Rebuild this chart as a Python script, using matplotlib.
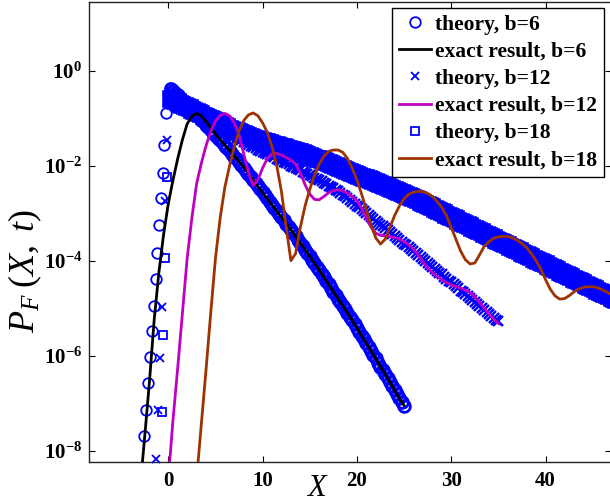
import numpy as np
import matplotlib
matplotlib.use("Agg")
import matplotlib.pyplot as plt
from matplotlib.ticker import FixedLocator, FixedFormatter

plt.rcParams['mathtext.fontset'] = 'custom'
plt.rcParams['mathtext.rm'] = 'Liberation Serif'
plt.rcParams['mathtext.it'] = 'Liberation Serif:italic'
plt.rcParams['mathtext.bf'] = 'Liberation Serif:bold'

# ---------------- data (log10 of P_F) ----------------
# theory b=6, left side (circles)
th6_left_x = [-2.55, -2.32, -2.12, -1.94, -1.76, -1.55, -1.34, -1.15, -0.95, -0.77, -0.60, -0.42, -0.24, 0.18]
th6_left_log = [-7.69, -7.14, -6.58, -6.02, -5.49, -4.95, -4.39, -3.83, -3.26, -2.69, -2.15, -1.56, -0.89, -0.36]
# theory b=6, X = 0.25 ... 25
th6_x = np.arange(0.25, 25.001, 0.25)
th6_log = [-0.38, -0.42, -0.47, -0.52, -0.57, -0.62, -0.67, -0.72, -0.77, -0.82,
           -0.87, -0.92, -0.975, -1.03, -1.085, -1.14, -1.195, -1.25, -1.305, -1.36,
           -1.415, -1.47, -1.525, -1.58, -1.635, -1.69, -1.75, -1.81, -1.87, -1.93,
           -1.99, -2.05, -2.115, -2.18, -2.245, -2.31, -2.37, -2.43, -2.495, -2.56,
           -2.625, -2.69, -2.755, -2.82, -2.885, -2.95, -3.015, -3.08, -3.15, -3.22,
           -3.285, -3.35, -3.42, -3.49, -3.56, -3.63, -3.70, -3.77, -3.84, -3.91,
           -3.98, -4.05, -4.125, -4.20, -4.275, -4.35, -4.425, -4.50, -4.575, -4.65,
           -4.725, -4.80, -4.875, -4.95, -5.025, -5.10, -5.18, -5.26, -5.34, -5.42,
           -5.50, -5.58, -5.66, -5.74, -5.82, -5.90, -5.98, -6.06, -6.145, -6.23,
           -6.31, -6.39, -6.475, -6.56, -6.645, -6.73, -6.815, -6.90, -6.985, -7.07]

# exact b=6, X = -3 ... 25
ex6_x = np.arange(-3.0, 25.01, 0.5)
ex6_log = [-8.8, -7.7, -6.55, -5.25, -4.25, -3.45, -2.8, -2.3, -1.85, -1.45, -1.12, -0.96, -0.9,
           -0.95, -1.07, -1.2, -1.33, -1.45, -1.57, -1.68, -1.79, -1.91, -2.03, -2.17, -2.31,
           -2.44, -2.57, -2.7, -2.83, -2.96, -3.09, -3.22, -3.35, -3.49, -3.63, -3.77, -3.91,
           -4.05, -4.2, -4.35, -4.5, -4.65, -4.8, -4.95, -5.1, -5.26, -5.42, -5.58, -5.74,
           -5.9, -6.06, -6.23, -6.39, -6.56, -6.73, -6.9, -7.05]

# theory b=12, left side (crosses)
th12_left_x = [-0.17, -0.35, -0.72, -0.89, -1.07, -1.30]
th12_left_log = [-1.45, -2.75, -4.97, -6.05, -7.14, -8.17]
# theory b=12, X = 0.25 ... 35
th12_x = np.arange(0.25, 35.001, 0.25)
th12_log = [-0.45, -0.5, -0.53, -0.56, -0.59, -0.62, -0.65, -0.68, -0.715, -0.75,
            -0.785, -0.82, -0.855, -0.89, -0.925, -0.96, -0.995, -1.03, -1.065, -1.1,
            -1.135, -1.17, -1.205, -1.24, -1.275, -1.31, -1.345, -1.38, -1.41, -1.44,
            -1.47, -1.5, -1.53, -1.56, -1.585, -1.61, -1.635, -1.66, -1.685, -1.71,
            -1.735, -1.76, -1.78, -1.8, -1.825, -1.85, -1.875, -1.9, -1.925, -1.95,
            -1.975, -2.0, -2.025, -2.05, -2.075, -2.1, -2.125, -2.15, -2.175, -2.2,
            -2.225, -2.25, -2.275, -2.3, -2.33, -2.36, -2.39, -2.42, -2.45, -2.48,
            -2.51, -2.54, -2.575, -2.61, -2.645, -2.68, -2.72, -2.76, -2.8, -2.84,
            -2.88, -2.92, -2.96, -3.0, -3.04, -3.08, -3.12, -3.16, -3.2, -3.24,
            -3.28, -3.32, -3.36, -3.4, -3.44, -3.48, -3.52, -3.56, -3.6, -3.64,
            -3.68, -3.72, -3.76, -3.8, -3.84, -3.88, -3.92, -3.96, -4.005, -4.05,
            -4.09, -4.13, -4.17, -4.21, -4.25, -4.29, -4.335, -4.38, -4.42, -4.46,
            -4.5, -4.54, -4.585, -4.63, -4.67, -4.71, -4.75, -4.79, -4.83, -4.87,
            -4.915, -4.96, -5.0, -5.04, -5.08, -5.12, -5.16, -5.2, -5.24, -5.28]

# exact b=12, X = 0 ... 35
ex12_x = np.arange(0.0, 35.01, 0.5)
ex12_log = [-8.6, -7.35, -6.25, -5.1, -3.95, -3.1, -2.38, -1.95, -1.58, -1.28, -1.06, -0.94, -0.9,
            -0.95, -1.1, -1.35, -1.75, -2.15, -2.42, -2.3, -2.05, -1.85, -1.75, -1.74, -1.78,
            -1.83, -1.88, -1.97, -2.15, -2.4, -2.6, -2.71, -2.72, -2.65, -2.57, -2.52, -2.51,
            -2.53, -2.58, -2.65, -2.74, -2.9, -3.1, -3.3, -3.42, -3.47, -3.48, -3.49, -3.51,
            -3.55, -3.6, -3.67, -3.76, -3.88, -4.02, -4.15, -4.25, -4.33, -4.4, -4.46, -4.51,
            -4.55, -4.58, -4.62, -4.67, -4.76, -4.88, -5.0, -5.12, -5.23, -5.32]

# theory b=18, left side (squares)
th18_left_x = [-0.17, -0.35, -0.53, -0.70]
th18_left_log = [-2.23, -3.95, -5.57, -7.18]
# theory b=18, X = 0.25 ... 47.5
th18_x = np.arange(0.25, 47.501, 0.25)
th18_log = [-0.6, -0.62, -0.645, -0.67, -0.695, -0.72, -0.745, -0.77, -0.795, -0.82,
            -0.845, -0.87, -0.895, -0.92, -0.945, -0.97, -0.995, -1.02, -1.045, -1.07,
            -1.095, -1.12, -1.145, -1.17, -1.195, -1.22, -1.24, -1.26, -1.28, -1.3,
            -1.32, -1.34, -1.36, -1.38, -1.4, -1.42, -1.435, -1.45, -1.465, -1.48,
            -1.495, -1.51, -1.525, -1.54, -1.555, -1.57, -1.585, -1.6, -1.615, -1.63,
            -1.645, -1.66, -1.675, -1.69, -1.705, -1.72, -1.735, -1.75, -1.77, -1.79,
            -1.81, -1.83, -1.85, -1.87, -1.89, -1.91, -1.93, -1.95, -1.97, -1.99,
            -2.01, -2.03, -2.05, -2.07, -2.09, -2.11, -2.13, -2.15, -2.17, -2.19,
            -2.21, -2.23, -2.25, -2.27, -2.29, -2.31, -2.33, -2.35, -2.37, -2.39,
            -2.41, -2.43, -2.45, -2.47, -2.49, -2.51, -2.53, -2.55, -2.57, -2.59,
            -2.61, -2.63, -2.655, -2.68, -2.705, -2.73, -2.755, -2.78, -2.805, -2.83,
            -2.855, -2.88, -2.905, -2.93, -2.955, -2.98, -3.005, -3.03, -3.055, -3.08,
            -3.105, -3.13, -3.155, -3.18, -3.205, -3.23, -3.255, -3.28, -3.305, -3.33,
            -3.355, -3.38, -3.405, -3.43, -3.455, -3.48, -3.505, -3.53, -3.555, -3.58,
            -3.605, -3.63, -3.655, -3.68, -3.705, -3.73, -3.755, -3.78, -3.805, -3.83,
            -3.855, -3.88, -3.905, -3.93, -3.955, -3.98, -4.005, -4.03, -4.055, -4.08,
            -4.105, -4.13, -4.155, -4.18, -4.205, -4.23, -4.255, -4.28, -4.305, -4.33,
            -4.355, -4.38, -4.405, -4.43, -4.455, -4.48, -4.505, -4.53, -4.555, -4.58,
            -4.605, -4.63, -4.655, -4.68, -4.705, -4.73, -4.755, -4.78, -4.805, -4.83]

# exact b=18, X = 3 ... 47
ex18_x = np.arange(3.0, 47.01, 0.5)
ex18_log = [-8.6, -7.45, -6.3, -5.1, -3.95, -3.1, -2.45, -2.0, -1.6, -1.27, -1.05, -0.93, -0.89,
            -0.95, -1.1, -1.3, -1.6, -2.0, -2.55, -3.3, -4.0, -3.85, -3.3, -2.85, -2.5,
            -2.2, -1.97, -1.8, -1.7, -1.67, -1.67, -1.72, -1.85, -2.05, -2.3, -2.6, -2.93,
            -3.25, -3.52, -3.65, -3.55, -3.3, -3.05, -2.85, -2.7, -2.6, -2.56, -2.54, -2.55,
            -2.58, -2.65, -2.75, -2.88, -3.05, -3.3, -3.55, -3.8, -3.98, -4.07, -4.05, -3.88,
            -3.7, -3.6, -3.53, -3.5, -3.49, -3.49, -3.52, -3.57, -3.64, -3.73, -3.85, -4.0,
            -4.18, -4.4, -4.6, -4.74, -4.81, -4.8, -4.74, -4.66, -4.6, -4.56, -4.55, -4.55,
            -4.57, -4.61, -4.66, -4.72]

legend_labels = ['theory, b=6', 'exact result, b=6', 'theory, b=12',
                 'exact result, b=12', 'theory, b=18', 'exact result, b=18']
xtick_vals = [0, 10, 20, 30, 40]
ytick_exp = [-8, -6, -4, -2, 0]

for a, b in [(th6_x, th6_log), (ex6_x, ex6_log), (th12_x, th12_log), (ex12_x, ex12_log),
             (th18_x, th18_log), (ex18_x, ex18_log)]:
    assert len(a) == len(b), (len(a), len(b))

def p(v):
    return 10.0 ** np.asarray(v, dtype=float)

# ---------------- figure ----------------
W, H = 610, 503
fig = plt.figure(figsize=(W / 100, H / 100), dpi=100)
ax_l, ax_r, ax_t, ax_b = 89, 611, 2, 462
ax = fig.add_axes([ax_l / W, (H - ax_b) / H, (ax_r - ax_l) / W, (ax_b - ax_t) / H])
ax.set_yscale('log')

blue = '#0000ff'
mag = '#c000c0'
brown = '#9c3300'
lw = 2.0

# b = 6
h_t6, = ax.plot(th6_left_x, p(th6_left_log), 'o', ls='none', mfc='none', mec=blue,
                ms=7.6, mew=1.3, clip_on=False, zorder=2)
ax.plot(th6_x, p(th6_log), 'o', ls='none', mfc='none', mec=blue, ms=8.4, mew=2.0, zorder=2)
# b = 12
h_t12, = ax.plot(th12_left_x, p(th12_left_log), 'x', ls='none', mec=blue,
                 ms=5.5, mew=1.3, clip_on=False, zorder=3)
ax.plot(th12_x, p(th12_log), 'x', ls='none', mec=blue, ms=7.6, mew=1.7, zorder=3)
# b = 18
h_t18, = ax.plot(th18_left_x, p(th18_left_log), 's', ls='none', mfc='none', mec=blue,
                 ms=6.0, mew=1.3, zorder=4)
ax.plot(th18_x, p(th18_log), 's', ls='none', mfc='none', mec=blue, ms=10.5, mew=2.6, zorder=4)
# exact curves on top
h_e6, = ax.plot(ex6_x, p(ex6_log), '-', color='k', lw=lw, zorder=6)
h_e12, = ax.plot(ex12_x, p(ex12_log), '-', color=mag, lw=lw, zorder=7)
h_e18, = ax.plot(ex18_x, p(ex18_log), '-', color=brown, lw=lw, zorder=8)

x0 = -8.41
ax.set_xlim(x0, x0 + (ax_r - ax_l) / 9.43)
ax.set_ylim(10 ** -8.24, 10 ** 1.446)

ax.xaxis.set_major_locator(FixedLocator(xtick_vals))
ax.xaxis.set_major_formatter(FixedFormatter([str(v) for v in xtick_vals]))
ax.yaxis.set_major_locator(FixedLocator([10.0 ** e for e in ytick_exp]))
ax.yaxis.set_major_formatter(FixedFormatter([r'$\mathbf{10^{%d}}$' % e for e in ytick_exp]))
ax.yaxis.set_minor_locator(FixedLocator([]))
ax.tick_params(which='both', direction='in', top=True, right=True, length=4.5, width=0.8,
               labelsize=15)
ax.tick_params(axis='x', pad=6.5)
ax.tick_params(axis='y', pad=5)
for lab in ax.get_xticklabels():
    lab.set_fontfamily('Liberation Serif')
    lab.set_fontweight('bold')
for sp in ax.spines.values():
    sp.set_linewidth(1.0)
    sp.set_color('#222222')

handles = [h_t6, h_e6, h_t12, h_e12, h_t18, h_e18]
leg = ax.legend(handles, legend_labels, loc='upper right',
                bbox_to_anchor=((604 - ax_l) / (ax_r - ax_l), 1 - (8 - ax_t) / (ax_b - ax_t)),
                borderaxespad=0, prop={'family': 'Liberation Serif', 'weight': 'bold', 'size': 15.5},
                fancybox=False, framealpha=1, edgecolor='k', handlelength=1.5, handletextpad=0.2,
                labelspacing=0.33, borderpad=0.3, numpoints=1)
leg.get_frame().set_linewidth(1.0)
leg.set_zorder(10)

fig.text(317 / W, 1 - 487 / H, r'$X$', fontsize=22, ha='center', va='center')
fig.text(25 / W, 1 - 271 / H, r'$P_F\;(X,\;t)$', fontsize=26, ha='center', va='center', rotation=90)

fig.savefig('out.png', dpi=100)
